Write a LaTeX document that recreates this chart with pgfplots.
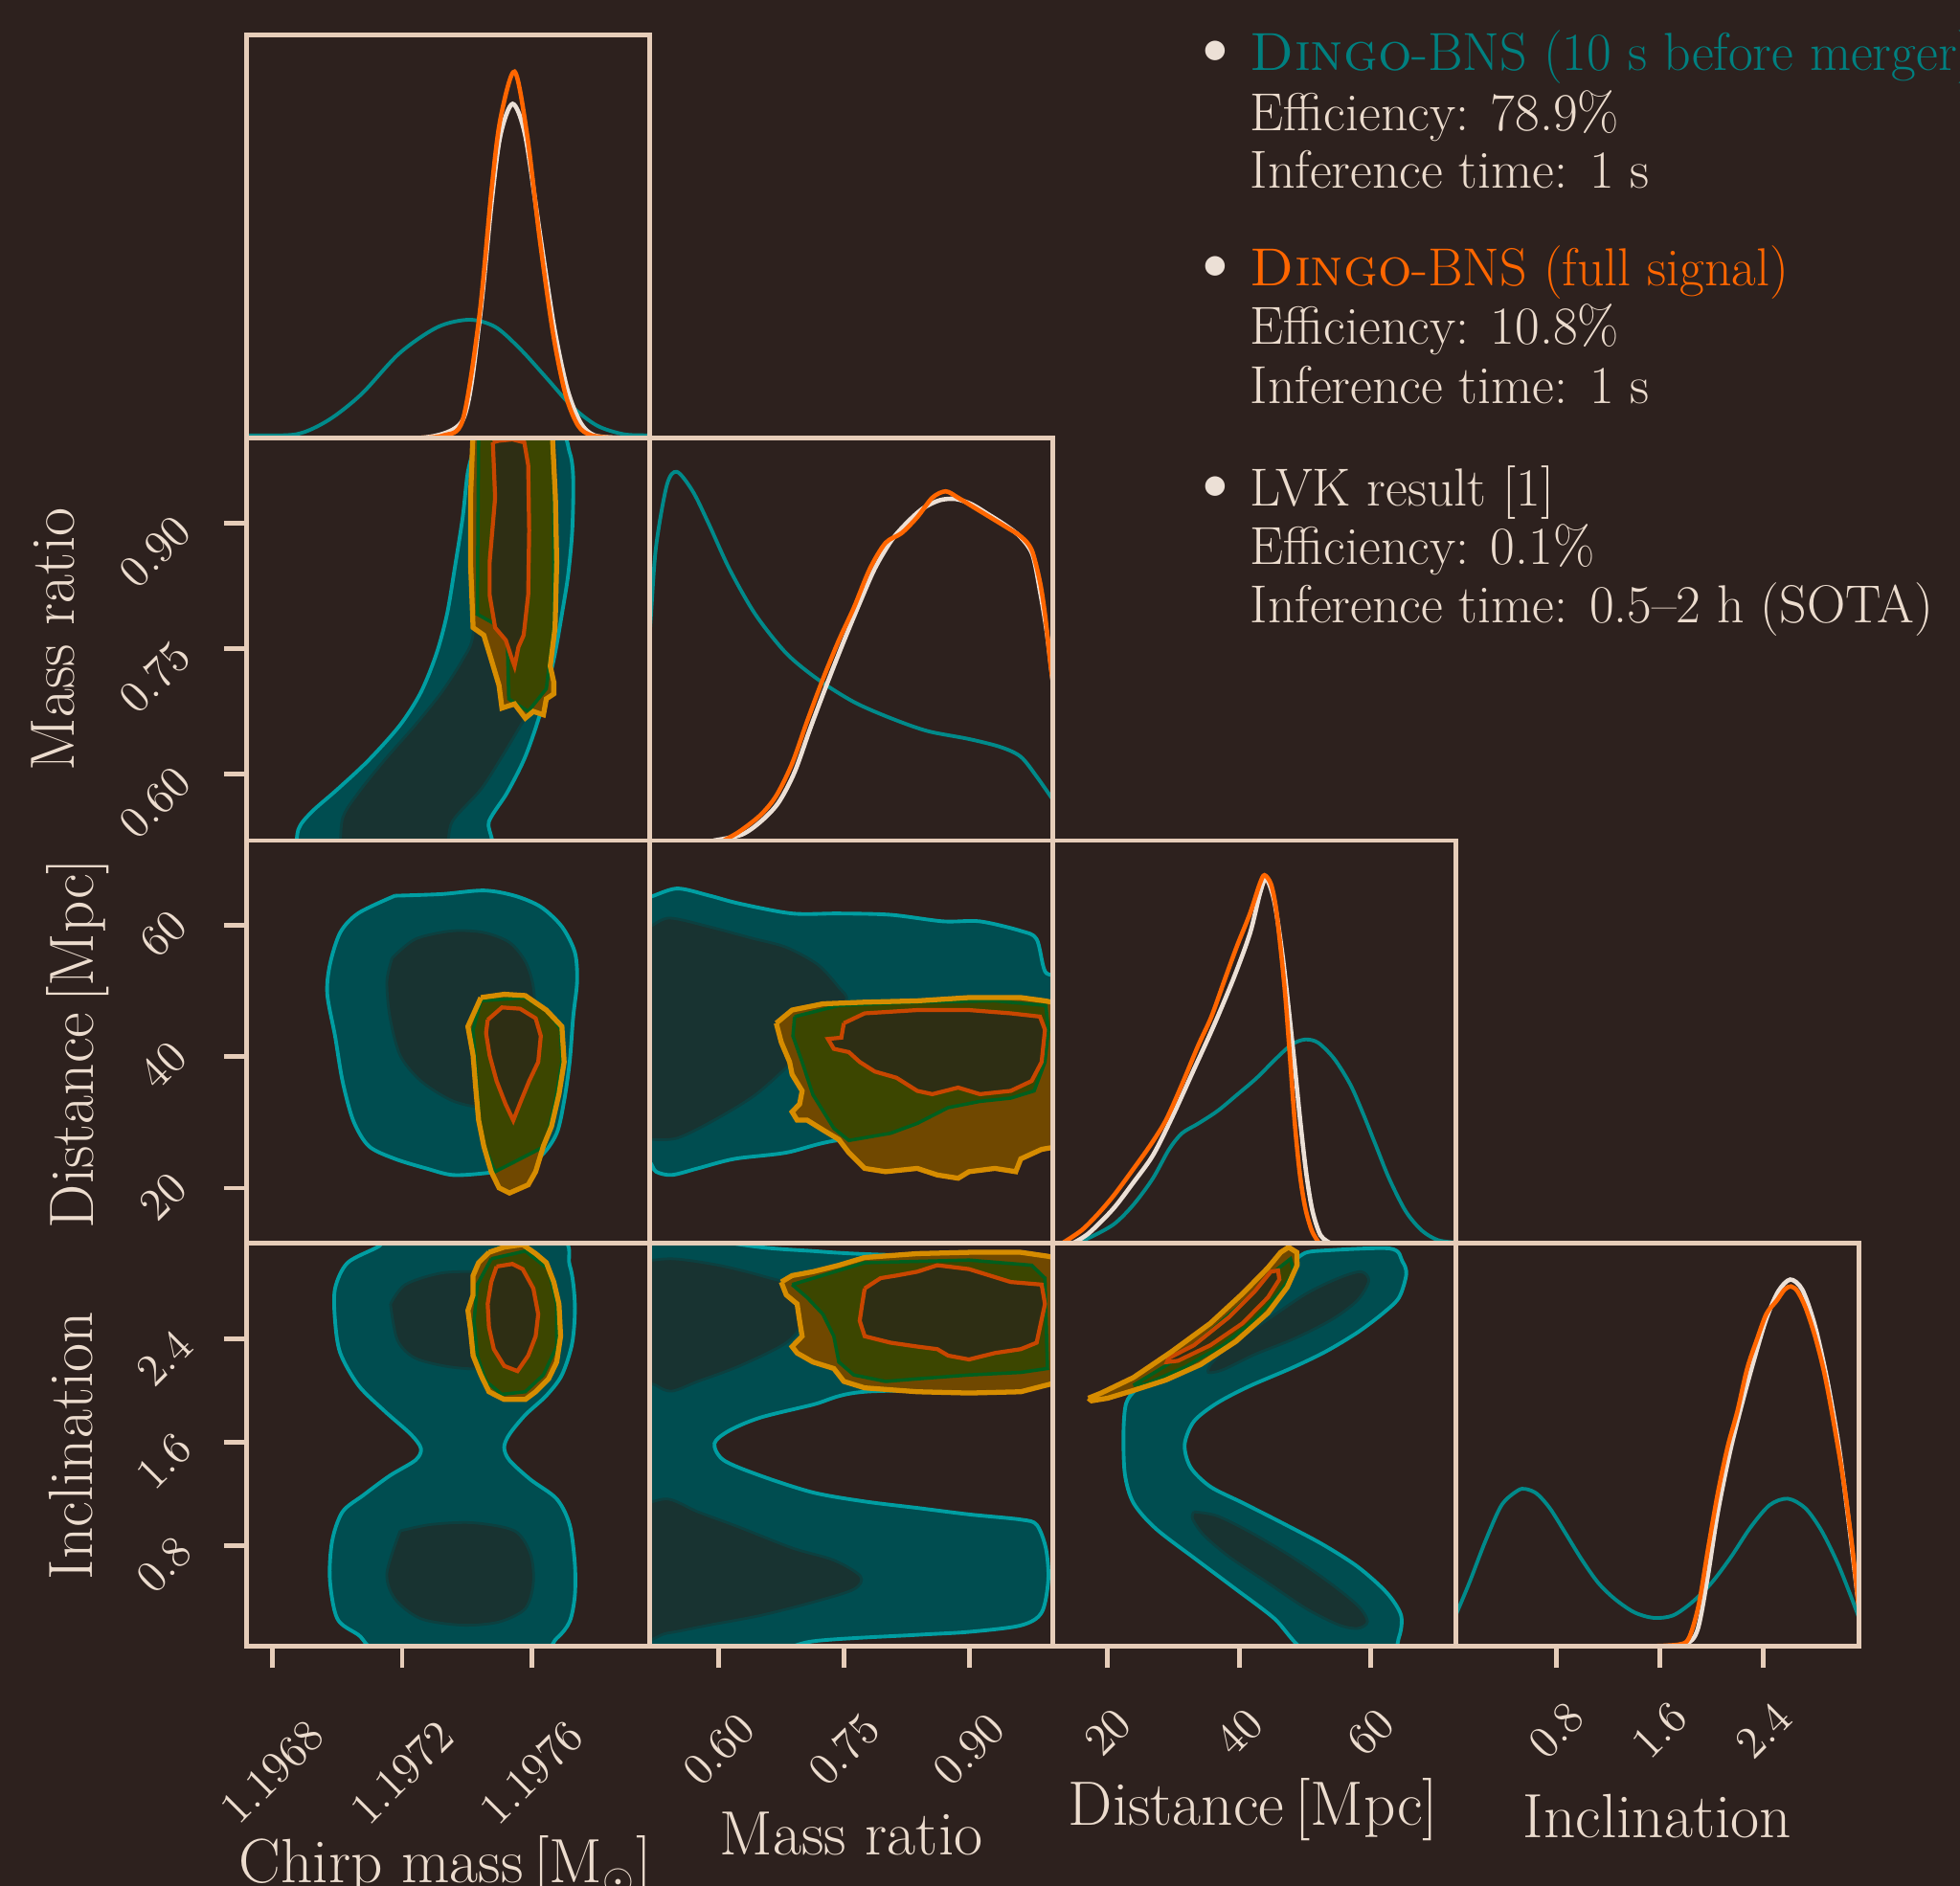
\documentclass[border=0pt]{standalone}
\usepackage{fontspec}
\usepackage{pgfplots}
\usepackage{pgfplotstable}
\pgfplotsset{compat=1.18}
\definecolor{bg}{RGB}{45,33,30}
\definecolor{frame}{RGB}{230,205,185}
\definecolor{txt}{RGB}{236,220,206}
\definecolor{tealone}{RGB}{0,138,138}
\definecolor{tealtext}{RGB}{0,128,128}
\definecolor{tealline}{RGB}{0,158,162}
\definecolor{tealfill}{RGB}{0,77,80}
\definecolor{tealin}{RGB}{24,51,49}
\definecolor{tealinline}{RGB}{12,64,64}
\definecolor{orng}{RGB}{255,102,0}
\definecolor{lvkw}{RGB}{236,224,214}
\definecolor{goldline}{RGB}{214,140,0}
\definecolor{goldfill}{RGB}{112,72,0}
\definecolor{olive}{RGB}{60,70,0}
\definecolor{greenline}{RGB}{0,95,30}
\definecolor{redline}{RGB}{200,70,0}
\definecolor{innerfill}{RGB}{46,46,20}
\newcommand\tickf{\fontsize{13.5}{13.5}\selectfont}
\newcommand\labf{\fontsize{18.6}{22}\selectfont}
\newcommand\legf{\fontsize{15.9}{18}\selectfont}
\newcommand\bulf{\fontsize{26}{26}\selectfont}
\pgfplotsset{
 panel/.style={scale only axis, width=4.21cm, height=4.207cm, anchor=south west,
   axis on top, no markers, xtick=\empty, ytick=\empty,
   axis line style={draw=frame, line width=1.4pt},
   tick style={draw=frame, line width=1.4pt}, major tick length=0.23cm, tick align=outside,
   ticklabel style={font=\tickf, text=txt}},
 bx/.style={xtick pos=bottom, xticklabel style={yshift=#1, rotate=45, anchor=center}},
 ly/.style 2 args={ytick pos=left, yticklabel style={xshift=#1, yshift=#2, rotate=45, anchor=center}},
 tO/.style={fill=tealfill, draw=tealline, line width=1.1pt, smooth, tension=0.5},
 tI/.style={fill=tealin, draw=tealinline, line width=0.8pt, smooth, tension=0.5},
 gF/.style={fill=goldfill, draw=none},
 lF/.style={fill=olive, draw=greenline, line width=1pt},
 rF/.style={fill=innerfill, draw=redline, line width=1.2pt},
 gL/.style={draw=goldline, line width=1.5pt, fill=none},
 c1t/.style={draw=tealone, line width=1.1pt, smooth},
 c1o/.style={draw=orng, line width=1.3pt, smooth},
 c1l/.style={draw=lvkw, line width=1.3pt, smooth},
}
% ---------- 1D marginals ----------
\pgfplotstableread{
x y
-0.9 0.004
-0.64 0.006
0.75 0.009
1.73 0.044
2.74 0.108
3.92 0.21
5.10 0.275
6.08 0.293
6.88 0.275
7.65 0.22
8.45 0.149
9.25 0.077
10.02 0.030
10.82 0.009
11.5 0.006
11.7 0.005
}\dMteal
\pgfplotstableread{
x y
4.6 0
5.28 0.006
5.87 0.044
6.38 0.30
6.76 0.616
7.03 0.79
7.47 0.909
7.86 0.75
8.24 0.497
8.66 0.258
9.04 0.108
9.43 0.03
9.84 0.006
10.5 0
}\dMorange
\pgfplotstableread{
x y
4.6 0
5.87 0.044
6.38 0.286
6.76 0.584
7.03 0.75
7.41 0.829
7.8 0.75
8.24 0.513
8.69 0.275
9.1 0.12
9.51 0.037
9.93 0.006
10.67 0
}\dMlvk
\pgfplotstableread{
x y
0.514 0.40
0.519 0.5615
0.525 0.73
0.538 0.883
0.550 0.9155
0.569 0.867
0.588 0.787
0.613 0.674
0.644 0.5615
0.681 0.465
0.719 0.40
0.762 0.344
0.806 0.304
0.850 0.272
0.900 0.252
0.938 0.232
0.962 0.208
0.981 0.159
1.0 0.103
1.005 0.09
}\dqteal
\pgfplotstableread{
x y
0.594 0
0.628 0.015
0.652 0.05
0.672 0.095
0.691 0.17
0.710 0.28
0.730 0.39
0.749 0.49
0.768 0.585
0.787 0.675
0.807 0.745
0.826 0.79
0.845 0.825
0.865 0.845
0.884 0.848
0.903 0.835
0.923 0.81
0.942 0.785
0.961 0.755
0.976 0.71
0.985 0.62
0.993 0.52
1.0 0.40
1.003 0.35
}\dqlvk
\pgfplotstableread{
x y
0.606 0
0.625 0.0225
0.650 0.063
0.669 0.111
0.688 0.191
0.706 0.296
0.725 0.401
0.744 0.497
0.762 0.578
0.781 0.674
0.800 0.739
0.819 0.763
0.838 0.803
0.856 0.851
0.872 0.867
0.887 0.851
0.906 0.827
0.925 0.803
0.944 0.779
0.962 0.755
0.975 0.722
0.985 0.642
0.991 0.5615
0.997 0.449
1.0 0.40
1.003 0.35
}\dqorange
\pgfplotstableread{
x y
15.03 0
17.48 0.016
20.98 0.048
23.92 0.096
26.86 0.161
29.32 0.233
31.28 0.273
33.73 0.297
36.73 0.329
39.68 0.369
42.62 0.410
45.56 0.458
48.01 0.494
50.04 0.506
52.0 0.498
54.45 0.458
56.9 0.394
58.86 0.321
60.82 0.241
62.79 0.161
65.3 0.080
67.75 0.032
70.2 0.008
72.9 0.002
}\ddteal
\pgfplotstableread{
x y
14.67 0
17.12 0.025
20.8 0.085
23.86 0.15
26.93 0.22
29.99 0.32
33.06 0.43
36.12 0.54
39.19 0.66
41.64 0.77
43.17 0.87
44.09 0.905
45.32 0.85
46.54 0.72
47.46 0.59
48.38 0.45
49.30 0.30
50.22 0.17
51.14 0.08
52.36 0.02
53.9 0
}\ddlvk
\pgfplotstableread{
x y
13.07 0
16.01 0.032
18.47 0.072
20.98 0.120
23.92 0.185
26.37 0.241
28.83 0.305
31.28 0.394
33.73 0.490
35.75 0.562
37.71 0.651
39.68 0.739
41.64 0.819
43.11 0.892
43.84 0.914
44.82 0.892
45.56 0.835
46.30 0.731
47.03 0.610
47.77 0.450
48.50 0.289
49.24 0.169
50.04 0.088
51.02 0.032
52.0 0.004
}\ddorange
\pgfplotstableread{
x y
-0.03 0.04
0.02 0.076
0.126 0.157
0.251 0.261
0.376 0.350
0.50 0.386
0.563 0.390
0.650 0.378
0.750 0.342
0.875 0.278
1.0 0.213
1.124 0.157
1.252 0.117
1.402 0.084
1.552 0.070
1.702 0.076
1.851 0.109
2.001 0.157
2.151 0.221
2.301 0.294
2.450 0.350
2.591 0.366
2.728 0.342
2.853 0.286
2.978 0.205
3.078 0.125
3.14 0.072
3.18 0.04
}\diteal
\pgfplotstableread{
x y
1.58 0
1.798 0.005
1.892 0.04
1.97 0.17
2.048 0.33
2.142 0.48
2.235 0.60
2.329 0.71
2.422 0.81
2.516 0.88
2.61 0.91
2.703 0.885
2.797 0.80
2.89 0.67
2.984 0.50
3.062 0.31
3.14 0.10
3.16 0.05
}\dilvk
\pgfplotstableread{
x y
1.552 0
1.752 0.004
1.826 0.020
1.901 0.101
1.976 0.245
2.051 0.382
2.126 0.495
2.201 0.583
2.276 0.688
2.351 0.760
2.426 0.825
2.504 0.857
2.566 0.885
2.616 0.893
2.666 0.881
2.728 0.841
2.803 0.768
2.878 0.672
2.953 0.543
3.028 0.398
3.090 0.245
3.128 0.133
3.14 0.10
3.16 0.05
}\diorange
% ---------- Panel A: chirp mass (1e-4 above 1.1968) vs mass ratio ----------
\pgfplotstableread{
x y
0.72 0.50
0.795 0.534
1.205 0.555
2.0 0.582
2.97 0.617
3.94 0.659
4.58 0.698
5.06 0.744
5.385 0.791
5.62 0.845
5.87 0.907
6.03 0.961
6.27 0.992
6.59 1.01
8.77 1.01
9.17 0.984
9.28 0.953
9.25 0.891
9.12 0.837
8.93 0.791
8.68 0.737
8.28 0.675
7.80 0.621
7.24 0.578
6.68 0.544
6.36 0.50
0.72 0.50
}\AtealO
\pgfplotstableread{
x y
2.09 0.50
2.16 0.547
2.65 0.578
3.46 0.617
4.41 0.659
5.22 0.698
5.87 0.737
6.19 0.767
6.27 0.853
6.36 1.01
8.61 1.01
8.68 0.853
8.52 0.737
8.12 0.690
7.56 0.652
7.08 0.621
6.43 0.582
5.55 0.544
5.06 0.50
2.09 0.50
}\AtealI
\pgfplotstableread{
x y
6.19 1.01
6.11 0.930
6.11 0.853
6.19 0.775
6.52 0.766
6.75 0.737
6.99 0.706
7.08 0.679
7.47 0.684
7.80 0.667
8.05 0.675
8.36 0.671
8.45 0.690
8.68 0.696
8.68 0.710
8.57 0.729
8.72 0.775
8.77 0.853
8.73 0.930
8.63 1.01
6.19 1.01
}\Agold
\pgfplotstableread{
x y
6.36 1.01
6.32 0.791
7.24 0.771
7.29 0.690
7.89 0.675
8.45 0.702
8.68 0.775
8.68 1.01
6.36 1.01
}\Alvk
\pgfplotstableread{
x y
6.80 0.996
6.87 0.930
6.70 0.853
6.70 0.814
6.87 0.775
7.20 0.760
7.36 0.741
7.47 0.729
7.59 0.752
7.75 0.766
7.89 0.814
7.92 0.891
7.89 0.969
7.77 0.996
7.40 0.9995
6.99 0.998
6.80 0.996
}\Ared
% ---------- Panel B: chirp mass vs distance ----------
\pgfplotstableread{
x y
3.78 64.5
5.22 64.75
6.52 65.3
7.47 64.5
8.28 62.8
8.93 59.8
9.33 55.9
9.40 51.5
9.28 46.1
9.17 39.2
9.0 33.3
8.77 28.35
8.28 24.9
7.47 23.0
6.52 22.25
5.55 22.0
4.74 23.0
3.78 24.45
2.97 26.4
2.49 30.3
2.16 36.3
1.93 43.15
1.69 49.5
1.77 54.0
2.09 58.9
2.65 61.85
3.78 64.5
}\BtealO
\pgfplotstableread{
x y
3.69 55.0
4.41 57.9
5.55 59.15
6.52 58.9
7.31 57.4
7.80 54.5
8.05 50.6
8.12 44.1
8.05 36.8
7.47 33.3
6.52 32.3
5.55 33.3
4.58 36.3
3.94 40.2
3.62 46.1
3.53 51.5
3.69 55.0
}\BtealI
\pgfplotstableread{
x y
6.43 49.0
7.15 49.5
7.80 49.3
8.45 47.1
8.93 44.6
9.0 39.2
8.84 34.3
8.61 29.4
8.36 26.4
8.12 22.5
7.89 20.5
7.31 19.25
6.99 20.05
6.75 22.5
6.52 26.4
6.36 30.35
6.27 35.3
6.19 40.2
6.03 44.6
6.43 49.0
}\Bgold
\pgfplotstableread{
x y
6.43 48.5
7.80 49.0
8.52 46.8
8.89 44.15
8.93 39.2
8.73 33.3
8.41 26.4
7.47 24.0
6.87 22.5
6.54 26.4
6.38 30.35
6.26 39.2
6.19 44.15
6.43 48.5
}\Blvk
\pgfplotstableread{
x y
6.64 45.6
7.08 47.5
7.64 47.3
8.12 45.85
8.28 43.15
8.20 39.2
7.92 36.3
7.67 33.3
7.43 30.3
7.19 32.8
6.915 36.3
6.70 40.2
6.59 43.6
6.64 45.6
}\Bred
% ---------- Panel C: mass ratio vs distance ----------
\pgfplotstableread{
x y
0.50 64.3
0.517 64.3
0.550 65.6
0.588 64.55
0.625 63.3
0.688 61.8
0.744 61.8
0.806 61.6
0.869 60.6
0.913 60.6
0.962 59.15
0.981 57.9
0.991 53.0
1.01 50.05
1.01 29.35
0.900 28.35
0.750 27.4
0.681 25.4
0.619 24.45
0.575 23.0
0.544 22.0
0.525 22.5
0.517 23.95
0.50 23.95
0.50 64.3
}\CtealO
\pgfplotstableread{
x y
0.50 59.8
0.517 59.8
0.541 61.1
0.588 59.8
0.638 58.1
0.681 56.65
0.719 54.0
0.744 50.55
0.753 48.5
0.725 44.1
0.688 39.2
0.644 34.2
0.594 30.3
0.550 27.6
0.517 27.4
0.50 27.4
0.50 59.8
}\CtealI
\pgfplotstableread{
x y
0.669 45.1
0.688 47.1
0.725 48.05
0.775 48.3
0.838 48.5
0.900 49.0
0.962 49.0
0.991 48.5
1.01 48.05
1.01 26.4
0.987 25.9
0.962 24.45
0.956 22.5
0.931 23.0
0.900 22.5
0.887 21.5
0.862 22.0
0.838 23.0
0.800 22.5
0.775 23.0
0.756 25.4
0.744 27.4
0.725 28.85
0.706 30.35
0.694 30.35
0.688 31.6
0.697 32.8
0.700 34.8
0.688 37.3
0.685 39.2
0.675 42.2
0.669 45.1
}\Cgold
\pgfplotstableread{
x y
0.691 46.1
0.744 47.8
0.838 48.3
0.931 48.5
0.992 47.8
0.995 44.1
0.991 39.2
0.978 34.8
0.950 33.7
0.913 33.2
0.875 32.25
0.838 29.85
0.806 28.35
0.756 27.25
0.738 29.1
0.713 34.2
0.700 39.2
0.689 43.15
0.691 46.1
}\Clvk
\pgfplotstableread{
x y
0.750 45.1
0.775 46.6
0.838 47.1
0.900 47.1
0.950 46.6
0.985 46.1
0.991 44.1
0.987 39.2
0.975 36.3
0.950 34.8
0.913 34.3
0.887 35.3
0.856 34.3
0.838 34.8
0.813 36.8
0.787 37.75
0.769 39.2
0.756 40.7
0.738 41.2
0.731 42.7
0.747 42.9
0.750 45.1
}\Cred
% ---------- Panel D: chirp mass vs inclination ----------
\pgfplotstableread{
x y
3.46 3.2
8.61 3.2
9.17 2.97
9.33 2.67
9.25 2.37
8.93 2.12
8.45 1.96
7.80 1.81
7.31 1.66
7.15 1.56
7.31 1.46
7.96 1.31
8.77 1.16
9.17 0.96
9.33 0.66
9.33 0.41
9.17 0.21
8.77 0.08
7.96 -0.05
3.62 -0.05
2.65 0.107
2.0 0.232
1.77 0.535
1.84 0.834
2.16 1.06
2.81 1.19
3.62 1.34
4.41 1.46
4.58 1.55
4.27 1.66
3.46 1.84
2.65 2.04
2.09 2.29
1.93 2.54
1.93 2.79
2.32 2.99
3.30 3.12
3.46 3.2
}\DtealO
\pgfplotstableread{
x y
3.64 2.67
4.10 2.82
5.22 2.91
6.52 2.92
8.12 2.91
8.45 2.67
8.28 2.34
6.68 2.18
5.55 2.18
4.41 2.25
3.855 2.39
3.64 2.67
}\DtealI
\pgfplotstableread{
x y
3.94 0.912
4.90 0.962
6.19 0.975
7.47 0.912
7.96 0.734
8.05 0.51
7.80 0.31
6.99 0.207
5.87 0.182
4.58 0.232
3.78 0.385
3.53 0.585
3.94 0.912
}\DtealJ
\pgfplotstableread{
x y
6.68 3.07
7.15 3.11
7.72 3.13
8.12 3.06
8.45 2.99
8.68 2.84
8.84 2.67
8.89 2.42
8.77 2.22
8.52 2.09
8.12 1.99
7.80 1.93
7.15 1.93
6.68 1.99
6.43 2.12
6.19 2.27
6.11 2.47
6.03 2.62
6.19 2.74
6.19 2.89
6.36 2.99
6.68 3.07
}\Dgold
\pgfplotstableread{
x y
6.75 3.02
7.80 3.08
8.52 2.94
8.77 2.67
8.77 2.34
8.36 2.12
7.80 1.99
7.08 1.97
6.59 2.07
6.32 2.27
6.22 2.54
6.32 2.82
6.75 3.02
}\Dlvk
\pgfplotstableread{
x y
6.915 2.96
7.40 2.98
7.72 2.94
8.05 2.79
8.20 2.59
8.12 2.42
7.89 2.27
7.56 2.15
7.15 2.19
6.83 2.32
6.68 2.49
6.64 2.67
6.75 2.84
6.915 2.96
}\Dred
% ---------- Panel E: mass ratio vs inclination ----------
\pgfplotstableread{
x y
0.50 3.2
0.55 3.2
0.650 3.11
0.713 3.08
0.762 3.06
0.900 3.02
0.994 2.92
0.997 2.17
0.962 2.02
0.775 1.99
0.713 1.89
0.650 1.79
0.613 1.69
0.595 1.59
0.606 1.46
0.650 1.34
0.713 1.21
0.775 1.14
0.838 1.09
0.900 1.04
0.962 1.0
0.981 0.96
0.992 0.78
0.995 0.535
0.987 0.28
0.962 0.18
0.900 0.13
0.838 0.107
0.713 0.057
0.650 -0.05
0.50 -0.05
0.50 3.2
}\EtealO
\pgfplotstableread{
x y
0.50 2.99
0.544 3.02
0.600 2.97
0.656 2.88
0.694 2.79
0.700 2.54
0.681 2.37
0.625 2.19
0.575 2.07
0.544 1.995
0.525 2.04
0.50 2.17
0.50 2.99
}\EtealI
\pgfplotstableread{
x y
0.50 1.09
0.538 1.16
0.575 1.06
0.625 0.94
0.688 0.78
0.738 0.685
0.770 0.56
0.762 0.46
0.713 0.36
0.650 0.257
0.588 0.182
0.538 0.12
0.50 0.107
0.50 1.09
}\EtealJ
\pgfplotstableread{
x y
0.675 2.84
0.688 2.89
0.713 2.92
0.744 2.97
0.775 3.03
0.838 3.06
0.900 3.07
0.962 3.07
0.994 3.04
1.01 3.02
1.01 2.07
0.962 1.99
0.900 1.98
0.838 1.99
0.775 2.02
0.750 2.07
0.738 2.17
0.713 2.22
0.694 2.29
0.688 2.34
0.700 2.42
0.697 2.54
0.694 2.67
0.681 2.74
0.678 2.79
0.675 2.84
}\Egold
\pgfplotstableread{
x y
0.688 2.82
0.775 2.99
0.900 3.01
0.975 2.97
0.991 2.87
0.994 2.17
0.962 2.14
0.900 2.12
0.838 2.09
0.800 2.07
0.762 2.12
0.744 2.22
0.738 2.42
0.725 2.59
0.706 2.72
0.688 2.82
}\Elvk
\pgfplotstableread{
x y
0.775 2.79
0.794 2.87
0.813 2.89
0.838 2.92
0.862 2.97
0.900 2.94
0.925 2.89
0.950 2.84
0.987 2.82
0.991 2.67
0.981 2.37
0.962 2.32
0.931 2.29
0.900 2.24
0.875 2.27
0.862 2.32
0.838 2.34
0.806 2.37
0.775 2.42
0.769 2.54
0.772 2.67
0.775 2.79
}\Ered
% ---------- Panel F: distance vs inclination ----------
\pgfplotstableread{
x y
51.6 3.08
62.85 3.10
64.8 3.0
65.4 2.90
64.3 2.72
61.9 2.60
58.0 2.45
53.1 2.30
47.8 2.17
41.4 2.03
36.55 1.90
33.1 1.76
31.7 1.58
32.6 1.405
35.6 1.255
40.5 1.13
46.3 0.98
52.6 0.81
58.0 0.635
62.4 0.435
64.6 0.26
64.3 0.09
62.4 -0.05
51.1 -0.05
45.3 0.235
39.5 0.46
33.6 0.685
27.3 0.93
23.9 1.13
22.6 1.355
22.4 1.68
22.8 1.90
24.35 2.01
27.8 2.15
32.1 2.30
37.0 2.47
41.9 2.67
45.8 2.85
48.3 3.0
50.0 3.065
51.6 3.08
}\FtealO
\pgfplotstableread{
x y
35.6 2.20
38.5 2.35
44.35 2.55
50.2 2.75
55.1 2.87
58.5 2.92
59.7 2.85
58.0 2.70
54.1 2.55
48.3 2.40
42.4 2.28
37.5 2.16
35.3 2.14
35.6 2.20
}\FtealI
\pgfplotstableread{
x y
33.1 1.06
36.55 1.03
41.4 0.91
47.3 0.734
53.1 0.535
58.0 0.335
59.5 0.21
58.0 0.157
55.1 0.185
50.2 0.31
44.35 0.51
38.5 0.71
34.6 0.88
32.9 1.006
33.1 1.06
}\FtealJ
\pgfplotstableread{
x y
17.05 1.94
19.0 1.98
23.9 2.10
29.7 2.30
35.6 2.52
40.5 2.75
44.35 2.95
46.3 3.07
47.5 3.11
48.75 3.07
48.8 2.97
47.3 2.80
44.35 2.60
39.5 2.38
34.1 2.20
28.8 2.08
23.9 2.0
20.0 1.94
17.55 1.92
17.05 1.94
}\Fgold
\pgfplotstableread{
x y
23.9 2.04
30.7 2.25
36.55 2.50
41.4 2.72
45.3 2.92
47.8 3.02
48.3 2.92
46.3 2.77
42.4 2.55
37.5 2.35
31.7 2.18
25.8 2.05
23.9 2.04
}\Flvk
\pgfplotstableread{
x y
29.25 2.25
33.1 2.35
38.5 2.57
42.4 2.77
44.8 2.92
45.9 2.93
46.1 2.86
44.35 2.72
40.5 2.52
35.6 2.35
30.7 2.23
29.0 2.22
29.25 2.25
}\Fred
\begin{document}
\begin{tikzpicture}
\path[use as bounding box, fill=bg] (0,0) rectangle (20.47,19.70);
% ===== row 0 =====
\begin{axis}[panel, at={(2.572cm,15.127cm)}, xmin=-0.81, xmax=11.63, ymin=0, ymax=1]
\addplot[c1t] table {\dMteal};
\addplot[c1l] table {\dMlvk};
\addplot[c1o] table {\dMorange};
\end{axis}
% ===== row 1 =====
\begin{axis}[panel, ly={-0.72cm}{-0.30cm}, at={(2.572cm,10.92cm)}, xmin=-0.81, xmax=11.63, ymin=0.521, ymax=1.0015,
  ytick={0.60,0.75,0.90}, yticklabels={0.60,0.75,0.90}]
\addplot[tO] table {\AtealO};
\addplot[tI] table {\AtealI};
\addplot[gF] table {\Agold};
\addplot[lF] table {\Alvk};
\addplot[rF] table {\Ared};
\addplot[gL] table {\Agold};
\end{axis}
\begin{axis}[panel, at={(6.782cm,10.92cm)}, xmin=0.517, xmax=1.0, ymin=0, ymax=1]
\addplot[c1t] table {\dqteal};
\addplot[c1l] table {\dqlvk};
\addplot[c1o] table {\dqorange};
\end{axis}
% ===== row 2 =====
\begin{axis}[panel, ly={-0.64cm}{-0.09cm}, at={(2.572cm,6.713cm)}, xmin=-0.81, xmax=11.63, ymin=11.6, ymax=72.9,
  ytick={20,40,60}, yticklabels={20,40,60}]
\addplot[tO] table {\BtealO};
\addplot[tI] table {\BtealI};
\addplot[gF] table {\Bgold};
\addplot[lF] table {\Blvk};
\addplot[rF] table {\Bred};
\addplot[gL] table {\Bgold};
\end{axis}
\begin{axis}[panel, at={(6.782cm,6.713cm)}, xmin=0.517, xmax=1.0, ymin=11.6, ymax=72.9]
\addplot[tO] table {\CtealO};
\addplot[tI] table {\CtealI};
\addplot[gF] table {\Cgold};
\addplot[lF] table {\Clvk};
\addplot[rF] table {\Cred};
\addplot[gL] table {\Cgold};
\end{axis}
\begin{axis}[panel, at={(10.992cm,6.713cm)}, xmin=11.6, xmax=72.9, ymin=0, ymax=1]
\addplot[c1t] table {\ddteal};
\addplot[c1l] table {\ddlvk};
\addplot[c1o] table {\ddorange};
\end{axis}
% ===== row 3 =====
\begin{axis}[panel, ly={-0.63cm}{-0.20cm}, bx={-1.09cm}, at={(2.572cm,2.506cm)}, xmin=-0.81, xmax=11.63, ymin=0.02, ymax=3.14,
  ytick={0.8,1.6,2.4}, yticklabels={0.8,1.6,2.4},
  xtick={0,4,8}, xticklabels={1.1968,1.1972,1.1976}]
\addplot[tO] table {\DtealO};
\addplot[tI] table {\DtealI};
\addplot[tI] table {\DtealJ};
\addplot[gF] table {\Dgold};
\addplot[lF] table {\Dlvk};
\addplot[rF] table {\Dred};
\addplot[gL] table {\Dgold};
\end{axis}
\begin{axis}[panel, bx={-0.85cm}, at={(6.782cm,2.506cm)}, xmin=0.517, xmax=1.0, ymin=0.02, ymax=3.14,
  xtick={0.60,0.75,0.90}, xticklabels={0.60,0.75,0.90}]
\addplot[tO] table {\EtealO};
\addplot[tI] table {\EtealI};
\addplot[tI] table {\EtealJ};
\addplot[gF] table {\Egold};
\addplot[lF] table {\Elvk};
\addplot[rF] table {\Ered};
\addplot[gL] table {\Egold};
\end{axis}
\begin{axis}[panel, bx={-0.67cm}, at={(10.992cm,2.506cm)}, xmin=11.6, xmax=72.9, ymin=0.02, ymax=3.14,
  xtick={20,40,60}, xticklabels={20,40,60}]
\addplot[tO] table {\FtealO};
\addplot[tI] table {\FtealI};
\addplot[tI] table {\FtealJ};
\addplot[gF] table {\Fgold};
\addplot[lF] table {\Flvk};
\addplot[rF] table {\Fred};
\addplot[gL] table {\Fgold};
\end{axis}
\begin{axis}[panel, bx={-0.65cm}, at={(15.202cm,2.506cm)}, xmin=0.02, xmax=3.14, ymin=0, ymax=1,
  xtick={0.8,1.6,2.4}, xticklabels={0.8,1.6,2.4}]
\addplot[c1t] table {\diteal};
\addplot[c1l] table {\dilvk};
\addplot[c1o] table {\diorange};
\end{axis}
% ===== axis labels =====
\node[rotate=90, font=\labf, text=txt] at (0.55,13.02) {Mass ratio};
\node[rotate=90, font=\labf, text=txt] at (0.81,8.80) {Distance\,[Mpc]};
\node[rotate=90, font=\labf, text=txt] at (0.74,4.60) {Inclination};
\node[anchor=base, font=\labf, text=txt] at (4.65,0.03) {Chirp mass\,[$\mathrm{M}_{\odot}$]};
\node[font=\labf, text=txt] at (8.89,0.55) {Mass ratio};
\node[font=\labf, text=txt] at (13.09,0.80) {Distance\,[Mpc]};
\node[font=\labf, text=txt] at (17.31,0.73) {Inclination};
% ===== legend =====
\begin{scope}[every node/.style={inner sep=0pt, font=\legf}]
\node[anchor=center, text=lvkw, font=\bulf] at (12.69,19.10) {\textbullet};
\node[anchor=base west, text=tealtext] at (13.05,18.96) {\textsc{Dingo}-BNS (10 s before merger)};
\node[anchor=base west, text=txt] at (13.05,18.33) {Efficiency: 78.9\%};
\node[anchor=base west, text=txt] at (13.05,17.73) {Inference time: 1 s};
\node[anchor=center, text=lvkw, font=\bulf] at (12.69,16.85) {\textbullet};
\node[anchor=base west, text=orng] at (13.05,16.71) {\textsc{Dingo}-BNS (full signal)};
\node[anchor=base west, text=txt] at (13.05,16.10) {Efficiency: 10.8\%};
\node[anchor=base west, text=txt] at (13.05,15.48) {Inference time: 1 s};
\node[anchor=center, text=lvkw, font=\bulf] at (12.69,14.55) {\textbullet};
\node[anchor=base west, text=txt] at (13.05,14.41) {LVK result [1]};
\node[anchor=base west, text=txt] at (13.05,13.80) {Efficiency: 0.1\%};
\node[anchor=base west, text=txt] at (13.05,13.19) {Inference time: 0.5--2 h (SOTA)};
\end{scope}
\end{tikzpicture}
\end{document}
